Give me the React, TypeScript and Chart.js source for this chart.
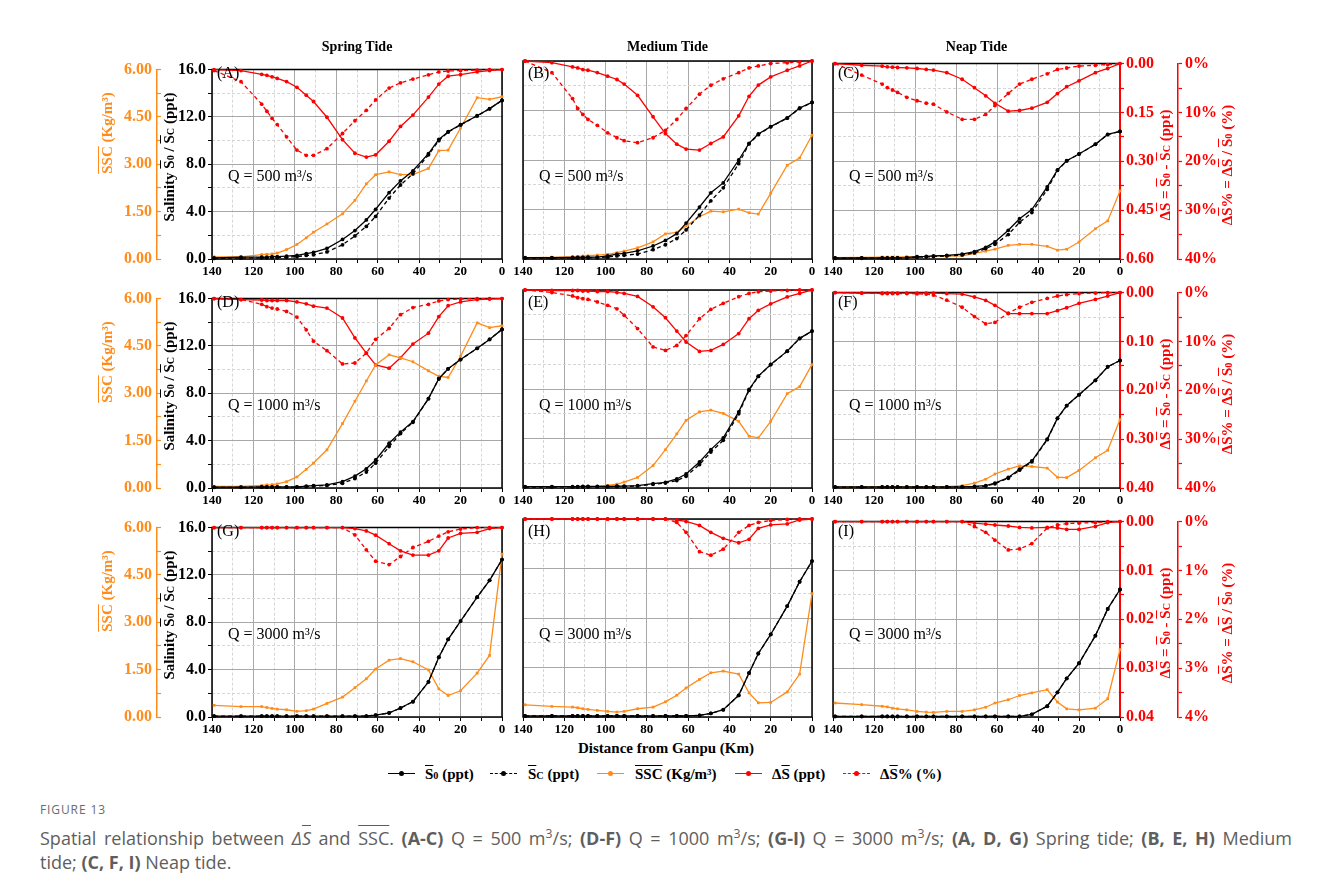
import React, { useEffect, useRef } from "react";
import { Chart, registerables } from "chart.js";

Chart.register(...registerables);

// Sampling stations, distance from Ganpu (km)
const distanceKm = [139, 126, 116, 113.5, 111, 108.5, 104, 99, 94.5, 91, 84.5, 77, 71, 65.5, 61, 54.5, 49, 43, 35.5, 30.5, 26, 20, 12, 6, 0];

// ---- Q = 500 m3/s ----
const s0A = [0.10, 0.15, 0.15, 0.15, 0.20, 0.20, 0.25, 0.30, 0.45, 0.55, 0.90, 1.65, 2.40, 3.30, 4.20, 5.60, 6.60, 7.45, 8.90, 10.10, 10.75, 11.35, 12.10, 12.70, 13.40];
const scA = [0.05, 0.08, 0.10, 0.10, 0.12, 0.12, 0.15, 0.20, 0.30, 0.35, 0.60, 1.20, 1.95, 2.75, 3.60, 5.15, 6.25, 7.20, 8.80, 10.00, 10.72, 11.33, 12.09, 12.69, 13.40];
const sscA = [0.07, 0.07, 0.14, 0.15, 0.16, 0.19, 0.30, 0.46, 0.67, 0.85, 1.11, 1.43, 1.86, 2.38, 2.67, 2.76, 2.67, 2.67, 2.87, 3.43, 3.45, 4.15, 5.11, 5.06, 5.14];
const dsA = [0, 0.003, 0.015, 0.018, 0.023, 0.028, 0.038, 0.056, 0.081, 0.101, 0.151, 0.222, 0.265, 0.277, 0.270, 0.227, 0.180, 0.144, 0.087, 0.046, 0.021, 0.016, 0.007, 0.003, 0];
const dspA = [0.2, 2.55, 7.3, 8.8, 10.3, 11.6, 14.2, 17.0, 18.1, 18.1, 16.7, 13.5, 10.8, 8.6, 6.4, 3.9, 2.8, 2.0, 1.1, 0.5, 0.3, 0.2, 0.1, 0, 0];

const s0B = [0.10, 0.10, 0.12, 0.12, 0.13, 0.14, 0.15, 0.25, 0.40, 0.45, 0.65, 1.05, 1.50, 2.05, 2.90, 4.20, 5.35, 6.15, 8.00, 9.35, 10.10, 10.70, 11.40, 12.20, 12.65];
const scB = [0.08, 0.08, 0.09, 0.09, 0.10, 0.10, 0.11, 0.15, 0.25, 0.30, 0.40, 0.75, 1.15, 1.65, 2.35, 3.55, 4.70, 5.75, 7.70, 9.30, 10.05, 10.68, 11.38, 12.18, 12.65];
const sscB = [0.04, 0.05, 0.07, 0.08, 0.09, 0.10, 0.12, 0.14, 0.19, 0.24, 0.34, 0.52, 0.76, 0.81, 1.00, 1.28, 1.45, 1.43, 1.51, 1.40, 1.36, 1.99, 2.84, 3.06, 3.75];
const dsB = [0, 0.005, 0.018, 0.021, 0.026, 0.028, 0.035, 0.046, 0.056, 0.070, 0.104, 0.169, 0.220, 0.252, 0.267, 0.270, 0.250, 0.230, 0.166, 0.107, 0.073, 0.048, 0.028, 0.015, 0];
const dspB = [0, 2.35, 7.6, 9.6, 10.8, 11.8, 13.0, 14.5, 15.5, 16.1, 16.5, 15.5, 14.0, 11.8, 9.6, 6.7, 4.9, 3.6, 2.35, 1.4, 1.0, 0.5, 0.35, 0.2, 0];

const s0C = [0.08, 0.08, 0.09, 0.09, 0.10, 0.10, 0.12, 0.20, 0.22, 0.25, 0.30, 0.40, 0.60, 0.95, 1.40, 2.35, 3.30, 4.05, 5.90, 7.30, 8.05, 8.60, 9.40, 10.20, 10.45];
const scC = [0.06, 0.06, 0.07, 0.07, 0.08, 0.08, 0.10, 0.15, 0.17, 0.20, 0.25, 0.33, 0.50, 0.85, 1.20, 2.00, 3.00, 3.80, 5.70, 7.25, 8.03, 8.59, 9.39, 10.19, 10.45];
const sscC = [0.04, 0.05, 0.06, 0.06, 0.06, 0.06, 0.07, 0.07, 0.07, 0.08, 0.09, 0.10, 0.17, 0.24, 0.30, 0.42, 0.45, 0.45, 0.39, 0.27, 0.30, 0.52, 0.93, 1.17, 2.09];
const dsC = [0, 0.005, 0.008, 0.010, 0.011, 0.012, 0.013, 0.015, 0.018, 0.020, 0.028, 0.048, 0.074, 0.099, 0.122, 0.146, 0.144, 0.137, 0.119, 0.092, 0.071, 0.053, 0.028, 0.015, 0];
const dspC = [0, 2.35, 4.2, 4.9, 5.4, 5.9, 6.9, 7.6, 8.1, 8.3, 9.9, 11.4, 11.4, 10.4, 8.6, 6.1, 4.2, 3.2, 2.1, 1.2, 0.9, 0.5, 0.35, 0.2, 0];

// ---- Q = 1000 m3/s ----
const s0D = [0.08, 0.08, 0.09, 0.09, 0.09, 0.10, 0.10, 0.10, 0.15, 0.20, 0.27, 0.54, 1.00, 1.62, 2.37, 3.78, 4.72, 5.61, 7.55, 9.23, 10.07, 10.85, 11.80, 12.55, 13.40];
const scD = [0.06, 0.06, 0.07, 0.07, 0.07, 0.08, 0.08, 0.08, 0.12, 0.16, 0.22, 0.40, 0.80, 1.35, 2.10, 3.50, 4.60, 5.55, 7.55, 9.23, 10.07, 10.85, 11.80, 12.55, 13.40];
const sscD = [0.05, 0.05, 0.08, 0.10, 0.11, 0.13, 0.20, 0.35, 0.59, 0.79, 1.21, 2.04, 2.75, 3.39, 3.90, 4.22, 4.12, 4.00, 3.71, 3.54, 3.50, 4.17, 5.23, 5.08, 5.14];
const dsD = [0, 0.002, 0.003, 0.004, 0.004, 0.004, 0.004, 0.007, 0.011, 0.016, 0.020, 0.041, 0.083, 0.115, 0.140, 0.147, 0.125, 0.096, 0.073, 0.038, 0.015, 0.007, 0.002, 0.001, 0];
const dspD = [0, 0.2, 1.2, 1.7, 2.0, 2.2, 2.7, 3.9, 6.6, 9.0, 11.0, 13.8, 13.6, 11.5, 8.6, 6.3, 3.4, 1.9, 1.2, 0.5, 0.2, 0.1, 0, 0, 0];

const s0E = [0.10, 0.10, 0.11, 0.11, 0.12, 0.12, 0.13, 0.13, 0.14, 0.15, 0.19, 0.35, 0.46, 0.73, 1.13, 2.10, 3.10, 4.05, 6.15, 7.96, 9.04, 9.98, 11.06, 12.09, 12.68];
const scE = [0.08, 0.08, 0.09, 0.09, 0.10, 0.10, 0.11, 0.11, 0.12, 0.13, 0.16, 0.30, 0.40, 0.60, 0.95, 1.90, 2.90, 3.85, 6.00, 7.90, 9.02, 9.97, 11.05, 12.08, 12.68];
const sscE = [0.03, 0.03, 0.04, 0.04, 0.04, 0.04, 0.05, 0.08, 0.12, 0.18, 0.32, 0.68, 1.16, 1.64, 2.05, 2.31, 2.36, 2.26, 2.02, 1.57, 1.52, 2.02, 2.86, 3.07, 3.74];
const dsE = [0, 0.001, 0.001, 0.001, 0.002, 0.002, 0.003, 0.003, 0.005, 0.007, 0.013, 0.034, 0.056, 0.083, 0.105, 0.124, 0.122, 0.110, 0.088, 0.058, 0.041, 0.028, 0.014, 0.007, 0];
const dspE = [0, 0.5, 1.2, 1.55, 1.75, 1.9, 2.4, 3.1, 3.8, 5.1, 7.8, 11.5, 12.2, 11.2, 9.2, 5.8, 3.9, 2.7, 1.35, 0.7, 0.35, 0.2, 0.1, 0, 0];

const s0F = [0.08, 0.08, 0.08, 0.08, 0.08, 0.08, 0.08, 0.08, 0.08, 0.08, 0.09, 0.10, 0.13, 0.19, 0.40, 0.86, 1.54, 2.21, 4.00, 5.72, 6.75, 7.64, 8.82, 9.93, 10.44];
const scF = [0.07, 0.07, 0.07, 0.07, 0.07, 0.07, 0.07, 0.07, 0.07, 0.07, 0.08, 0.09, 0.11, 0.16, 0.35, 0.80, 1.46, 2.15, 3.96, 5.70, 6.74, 7.63, 8.81, 9.92, 10.44];
const sscF = [0.03, 0.03, 0.03, 0.03, 0.03, 0.03, 0.03, 0.03, 0.03, 0.03, 0.04, 0.07, 0.15, 0.27, 0.43, 0.58, 0.68, 0.66, 0.61, 0.33, 0.32, 0.54, 0.93, 1.16, 2.10];
const dsF = [0, 0.001, 0.001, 0.001, 0.001, 0.001, 0.001, 0.001, 0.001, 0.001, 0.002, 0.003, 0.009, 0.016, 0.026, 0.043, 0.043, 0.043, 0.043, 0.037, 0.031, 0.022, 0.014, 0.007, 0];
const dspF = [0, 0.1, 0.2, 0.2, 0.2, 0.2, 0.2, 0.25, 0.3, 0.5, 1.55, 3.0, 4.9, 6.4, 6.1, 4.2, 3.0, 2.0, 1.2, 0.7, 0.4, 0.2, 0.1, 0, 0];

// ---- Q = 3000 m3/s ----
const s0G = [0.08, 0.08, 0.08, 0.08, 0.08, 0.08, 0.08, 0.08, 0.08, 0.08, 0.08, 0.08, 0.08, 0.08, 0.16, 0.35, 0.76, 1.30, 2.97, 5.05, 6.56, 8.10, 10.12, 11.55, 13.30];
const scG = [0.08, 0.08, 0.08, 0.08, 0.08, 0.08, 0.08, 0.08, 0.08, 0.08, 0.08, 0.08, 0.08, 0.08, 0.16, 0.34, 0.75, 1.29, 2.96, 5.04, 6.56, 8.10, 10.12, 11.55, 13.30];
const sscG = [0.37, 0.33, 0.33, 0.30, 0.27, 0.25, 0.23, 0.18, 0.20, 0.25, 0.43, 0.63, 0.93, 1.21, 1.52, 1.80, 1.85, 1.75, 1.49, 0.89, 0.68, 0.83, 1.39, 1.95, 5.16];
const dsG = [0, 0, 0, 0, 0, 0, 0, 0, 0, 0, 0, 0, 0.0002, 0.0007, 0.0016, 0.0034, 0.0049, 0.0058, 0.0058, 0.0049, 0.0022, 0.0012, 0.0010, 0.0002, 0];
const dspG = [0, 0, 0, 0, 0, 0, 0, 0, 0, 0, 0, 0, 0.155, 0.47, 0.71, 0.78, 0.61, 0.42, 0.29, 0.18, 0.09, 0.03, 0, 0, 0];

const s0H = [0.08, 0.08, 0.08, 0.08, 0.08, 0.08, 0.08, 0.08, 0.08, 0.08, 0.08, 0.08, 0.08, 0.08, 0.08, 0.13, 0.30, 0.59, 1.75, 3.56, 5.13, 6.67, 8.96, 10.93, 12.60];
const scH = [0.08, 0.08, 0.08, 0.08, 0.08, 0.08, 0.08, 0.08, 0.08, 0.08, 0.08, 0.08, 0.08, 0.08, 0.08, 0.13, 0.29, 0.58, 1.74, 3.55, 5.13, 6.67, 8.96, 10.93, 12.60];
const sscH = [0.37, 0.32, 0.30, 0.28, 0.25, 0.23, 0.20, 0.17, 0.15, 0.17, 0.25, 0.30, 0.46, 0.66, 0.88, 1.14, 1.34, 1.39, 1.30, 0.73, 0.43, 0.44, 0.76, 1.30, 3.74];
const dsH = [0, 0, 0, 0, 0, 0, 0, 0, 0, 0, 0, 0, 0, 0.0002, 0.0005, 0.0013, 0.0027, 0.0039, 0.0048, 0.0041, 0.0019, 0.0012, 0.0010, 0.0002, 0];
const dspH = [0, 0, 0, 0, 0, 0, 0, 0, 0, 0, 0, 0, 0, 0.07, 0.27, 0.66, 0.73, 0.61, 0.27, 0.13, 0.07, 0.03, 0.01, 0, 0];

const s0I = [0.05, 0.05, 0.05, 0.05, 0.05, 0.05, 0.05, 0.05, 0.05, 0.05, 0.05, 0.05, 0.05, 0.05, 0.05, 0.05, 0.05, 0.22, 0.89, 2.02, 3.16, 4.40, 6.66, 8.85, 10.44];
const scI = [0.05, 0.05, 0.05, 0.05, 0.05, 0.05, 0.05, 0.05, 0.05, 0.05, 0.05, 0.05, 0.05, 0.05, 0.05, 0.05, 0.05, 0.22, 0.88, 2.02, 3.16, 4.40, 6.66, 8.85, 10.44];
const sscI = [0.43, 0.38, 0.33, 0.31, 0.27, 0.25, 0.22, 0.17, 0.15, 0.14, 0.17, 0.17, 0.22, 0.30, 0.43, 0.53, 0.66, 0.74, 0.84, 0.46, 0.25, 0.22, 0.27, 0.56, 2.07];
const dsI = [0, 0, 0, 0, 0, 0, 0, 0, 0, 0, 0, 0, 0.0003, 0.0005, 0.0007, 0.0009, 0.0012, 0.0013, 0.0012, 0.0013, 0.0016, 0.0016, 0.0010, 0.0002, 0];
const dspI = [0, 0, 0, 0, 0, 0, 0, 0, 0, 0, 0, 0, 0.10, 0.22, 0.38, 0.58, 0.56, 0.45, 0.13, 0.07, 0.04, 0.03, 0.02, 0, 0];

// Axis ticks and their labels ('' = unlabelled minor tick)
const xTickValues = [0, 10, 20, 30, 40, 50, 60, 70, 80, 90, 100, 110, 120, 130, 140];
const xTickLabels = ["0", "", "20", "", "40", "", "60", "", "80", "", "100", "", "120", "", "140"];
const salTickValues = [0, 2, 4, 6, 8, 10, 12, 14, 16];
const salTickLabels = ["0.0", "", "4.0", "", "8.0", "", "12.0", "", "16.0"];
const sscTickValues = [0, 0.75, 1.5, 2.25, 3, 3.75, 4.5, 5.25, 6];
const sscTickLabels = ["0.00", "", "1.50", "", "3.00", "", "4.50", "", "6.00"];
const dsTickValues = [
  [0, 0.075, 0.15, 0.225, 0.3, 0.375, 0.45, 0.525, 0.6],
  [0, 0.05, 0.1, 0.15, 0.2, 0.25, 0.3, 0.35, 0.4],
  [0, 0.005, 0.01, 0.015, 0.02, 0.025, 0.03, 0.035, 0.04],
];
const dsTickLabels = [
  ["0.00", "", "0.15", "", "0.30", "", "0.45", "", "0.60"],
  ["0.00", "", "0.10", "", "0.20", "", "0.30", "", "0.40"],
  ["0.00", "", "0.01", "", "0.02", "", "0.03", "", "0.04"],
];
const dspTickValues = [
  [0, 5, 10, 15, 20, 25, 30, 35, 40],
  [0, 5, 10, 15, 20, 25, 30, 35, 40],
  [0, 0.5, 1, 1.5, 2, 2.5, 3, 3.5, 4],
];
const dspTickLabels = [
  ["0%", "", "10%", "", "20%", "", "30%", "", "40%"],
  ["0%", "", "10%", "", "20%", "", "30%", "", "40%"],
  ["0%", "", "1%", "", "2%", "", "3%", "", "4%"],
];

const tideNames = ["Spring Tide", "Medium Tide", "Neap Tide"];
const flowRates = ["500", "1000", "3000"];

type PanelSpec = {
  key: string; row: number; col: number;
  s0: number[]; sc: number[]; ssc: number[]; ds: number[]; dsp: number[];
};

const panels: PanelSpec[] = [
  { key: "A", row: 0, col: 0, s0: s0A, sc: scA, ssc: sscA, ds: dsA, dsp: dspA },
  { key: "B", row: 0, col: 1, s0: s0B, sc: scB, ssc: sscB, ds: dsB, dsp: dspB },
  { key: "C", row: 0, col: 2, s0: s0C, sc: scC, ssc: sscC, ds: dsC, dsp: dspC },
  { key: "D", row: 1, col: 0, s0: s0D, sc: scD, ssc: sscD, ds: dsD, dsp: dspD },
  { key: "E", row: 1, col: 1, s0: s0E, sc: scE, ssc: sscE, ds: dsE, dsp: dspE },
  { key: "F", row: 1, col: 2, s0: s0F, sc: scF, ssc: sscF, ds: dsF, dsp: dspF },
  { key: "G", row: 2, col: 0, s0: s0G, sc: scG, ssc: sscG, ds: dsG, dsp: dspG },
  { key: "H", row: 2, col: 1, s0: s0H, sc: scH, ssc: sscH, ds: dsH, dsp: dspH },
  { key: "I", row: 2, col: 2, s0: s0I, sc: scI, ssc: sscI, ds: dsI, dsp: dspI },
];

const ORANGE = "#FF8C1A";
const RED = "#FF0000";
const GRID_MAJOR = "#a8a8a8";
const GRID_MINOR = "#d6d6d6";
const SERIF = "'Liberation Serif', 'Times New Roman', serif";
const SANS = "'Open Sans', 'Noto Sans', sans-serif";

// Plot-area geometry (page pixels)
const PLOT_LEFT = [212, 523, 833];
const PLOT_RIGHT = [502, 812, 1120];
const PLOT_TOP = [61, 290, 519];
const PLOT_BOTTOM = [259, 488, 717];
const CANVAS_LEFT = [112, 509, 819];
const CANVAS_RIGHT = [516, 826, 1245];
const PAD_TOP = 10;
const X_AXIS_H = 22;

function labelFor(values: number[], labels: string[], v: number): string {
  const i = values.findIndex((t) => Math.abs(t - v) < 1e-9);
  return i >= 0 ? labels[i] : "";
}

function fixedTicks(values: number[]) {
  return (scale: any) => {
    scale.ticks = values.map((value) => ({ value }));
  };
}

function gridColor(values: number[], labels: string[]) {
  return (ctx: any) =>
    ctx.tick && labelFor(values, labels, ctx.tick.value) === "" ? GRID_MINOR : GRID_MAJOR;
}

function gridDash(values: number[], labels: string[]) {
  return (ctx: any) =>
    ctx.tick && labelFor(values, labels, ctx.tick.value) === "" ? [3, 2] : [];
}

// Black frame round the plot area (right side left to the red axis on the last column)
const panelFrame = {
  id: "panelFrame",
  beforeDatasetsDraw(chart: any, _args: any, opts: any) {
    const { ctx, chartArea } = chart;
    const { left, top, right, bottom } = chartArea;
    ctx.save();
    ctx.strokeStyle = "#000";
    ctx.lineWidth = 1.5;
    ctx.beginPath();
    ctx.moveTo(right, top);
    ctx.lineTo(left, top);
    ctx.lineTo(left, bottom);
    ctx.lineTo(right, bottom);
    if (!opts.openRight) ctx.lineTo(right, top);
    ctx.stroke();
    ctx.restore();
  },
};

const tickFont = (size: number) => ({ family: SERIF, size, weight: "bold" as const });

function series(label: string, values: number[], color: string, axis: string, dashed: boolean, style: string) {
  return {
    label,
    data: distanceKm.map((x, i) => ({ x, y: values[i] })),
    yAxisID: axis,
    borderColor: color,
    backgroundColor: color,
    borderWidth: 1.3,
    borderDash: dashed ? [4, 3] : [],
    pointRadius: 1.9,
    pointBorderWidth: 0,
    pointStyle: style,
    tension: 0,
    clip: false,
  };
}

function Panel({ p }: { p: PanelSpec }) {
  const ref = useRef<HTMLCanvasElement>(null);
  const { row, col } = p;
  const left = CANVAS_LEFT[col];
  const width = CANVAS_RIGHT[col] - left;
  const top = PLOT_TOP[row] - PAD_TOP;
  const height = PLOT_BOTTOM[row] - PLOT_TOP[row] + PAD_TOP + X_AXIS_H;

  useEffect(() => {
    const dsVals = dsTickValues[row];
    const dsLabs = dsTickLabels[row];
    const dspVals = dspTickValues[row];
    const dspLabs = dspTickLabels[row];
    const chart = new Chart(ref.current as HTMLCanvasElement, {
      type: "line",
      data: {
        datasets: [
          series("S0 (ppt)", p.s0, "#000", "ySal", false, "circle"),
          series("Sc (ppt)", p.sc, "#000", "ySal", true, "circle"),
          series("SSC (Kg/m³)", p.ssc, ORANGE, "ySsc", false, "rect"),
          series("ΔS (ppt)", p.ds, RED, "yDs", false, "circle"),
          series("ΔS% (%)", p.dsp, RED, "yDsp", true, "circle"),
        ] as any,
      },
      plugins: [panelFrame as any],
      options: {
        animation: false,
        responsive: false,
        devicePixelRatio: 1,
        events: [],
        layout: {
          padding: { top: PAD_TOP, bottom: 0, left: col === 0 ? 0 : 14, right: col === 2 ? 0 : 14 },
        },
        plugins: {
          legend: { display: false },
          tooltip: { enabled: false },
          panelFrame: { openRight: col === 2 },
        } as any,
        scales: {
          x: {
            type: "linear",
            min: 0,
            max: 140,
            reverse: true,
            position: "bottom",
            afterBuildTicks: fixedTicks(xTickValues),
            afterFit: (s: any) => { s.height = X_AXIS_H; },
            ticks: {
              autoSkip: false, maxRotation: 0, minRotation: 0, padding: 1,
              color: "#000", font: tickFont(13),
              callback: (v: any) => labelFor(xTickValues, xTickLabels, Number(v)),
            },
            grid: {
              color: gridColor(xTickValues, xTickLabels), lineWidth: 1,
              drawTicks: true, tickLength: 4, tickColor: "#000", tickWidth: 1,
            },
            border: { display: false, dash: gridDash(xTickValues, xTickLabels) },
          },
          ySal: {
            type: "linear", min: 0, max: 16, position: "left", weight: 0,
            afterBuildTicks: fixedTicks(salTickValues),
            afterFit: (s: any) => { s.width = col === 0 ? 55 : 0; },
            ticks: {
              display: col === 0, padding: 2, color: "#000", font: tickFont(16),
              callback: (v: any) => labelFor(salTickValues, salTickLabels, Number(v)),
            },
            grid: {
              color: gridColor(salTickValues, salTickLabels), lineWidth: 1,
              drawTicks: col === 0, tickLength: 4, tickColor: "#000", tickWidth: 1,
            },
            border: { display: false, dash: gridDash(salTickValues, salTickLabels) },
          },
          ySsc: {
            type: "linear", min: 0, max: 6, position: "left", weight: 1, display: col === 0,
            afterBuildTicks: fixedTicks(sscTickValues),
            afterFit: (s: any) => { s.width = col === 0 ? 45 : 0; },
            ticks: {
              padding: 9, color: ORANGE, font: tickFont(16),
              callback: (v: any) => labelFor(sscTickValues, sscTickLabels, Number(v)),
            },
            grid: { drawOnChartArea: false, drawTicks: true, tickLength: -4, tickColor: ORANGE, tickWidth: 1.2 },
            border: { display: true, color: ORANGE, width: 1.5 },
          },
          yDs: {
            type: "linear", min: 0, max: dsVals[dsVals.length - 1], reverse: true,
            position: "right", weight: 0, display: col === 2,
            afterBuildTicks: fixedTicks(dsVals),
            afterFit: (s: any) => { s.width = col === 2 ? 58 : 0; },
            ticks: {
              padding: 2, color: RED, font: tickFont(16),
              callback: (v: any) => labelFor(dsVals, dsLabs, Number(v)),
            },
            grid: { drawOnChartArea: false, drawTicks: true, tickLength: 4, tickColor: RED, tickWidth: 1.2 },
            border: { display: true, color: RED, width: 2 },
          },
          yDsp: {
            type: "linear", min: 0, max: dspVals[dspVals.length - 1], reverse: true,
            position: "right", weight: 1, display: col === 2,
            afterBuildTicks: fixedTicks(dspVals),
            afterFit: (s: any) => { s.width = col === 2 ? 67 : 0; },
            ticks: {
              padding: 3, color: RED, font: tickFont(16),
              callback: (v: any) => labelFor(dspVals, dspLabs, Number(v)),
            },
            grid: { drawOnChartArea: false, drawTicks: true, tickLength: 4, tickColor: RED, tickWidth: 1.2 },
            border: { display: true, color: RED, width: 1.5 },
          },
        } as any,
      },
    });
    return () => chart.destroy();
  }, []);

  return (
    <canvas
      ref={ref}
      width={width}
      height={height}
      style={{ position: "absolute", left, top, width, height, display: "block" }}
    />
  );
}

const O = ({ children }: { children: React.ReactNode }) => (
  <span style={{ textDecoration: "overline" }}>{children}</span>
);
const Sub = ({ children }: { children: React.ReactNode }) => (
  <span style={{ fontSize: "0.68em" }}>{children}</span>
);

function VText({ x, y, color, children }: { x: number; y: number; color: string; children: React.ReactNode }) {
  return (
    <div
      style={{
        position: "absolute", left: x, top: y, transform: "translate(-50%, -50%) rotate(-90deg)",
        whiteSpace: "nowrap", fontFamily: SERIF, fontWeight: "bold", fontSize: 15, color, lineHeight: "18px",
      }}
    >
      {children}
    </div>
  );
}

const legendItems = [
  { color: "#000", dashed: false, sx: 388, tx: 425, text: <><O>S</O><Sub>0</Sub> (ppt)</> },
  { color: "#000", dashed: true, sx: 490, tx: 528, text: <><O>S</O><Sub>C</Sub> (ppt)</> },
  { color: ORANGE, dashed: false, sx: 597, tx: 635, text: <><O>SSC</O> (Kg/m³)</> },
  { color: RED, dashed: false, sx: 735, tx: 772, text: <>Δ<O>S</O> (ppt)</> },
  { color: RED, dashed: true, sx: 843, tx: 880, text: <>Δ<O>S</O>% (%)</> },
];

export default function App() {
  const sup = (t: string) => (
    <span style={{ fontSize: "0.68em", verticalAlign: "super", lineHeight: 0 }}>{t}</span>
  );
  const captionStyle: React.CSSProperties = {
    position: "absolute", left: 40, width: 1252, fontFamily: SANS, fontSize: 18,
    lineHeight: "24px", color: "#5e5e5e", whiteSpace: "nowrap",
  };
  return (
    <div
      style={{
        position: "absolute", left: 0, top: 0, width: 1332, height: 895,
        background: "#fff", overflow: "hidden", fontFamily: SERIF,
      }}
    >
      {panels.map((p) => (
        <Panel key={p.key} p={p} />
      ))}

      {tideNames.map((t, c) => (
        <div
          key={t}
          style={{
            position: "absolute", left: (PLOT_LEFT[c] + PLOT_RIGHT[c]) / 2 - 100, width: 200, top: 38,
            textAlign: "center", fontWeight: "bold", fontSize: 14, lineHeight: "18px", color: "#000",
          }}
        >
          {t}
        </div>
      ))}

      {panels.map((p) => (
        <div
          key={"lab" + p.key}
          style={{
            position: "absolute", left: PLOT_LEFT[p.col] + 5, top: PLOT_TOP[p.row] + 2,
            fontSize: 16, lineHeight: "20px", color: "#000",
          }}
        >
          ({p.key})
        </div>
      ))}

      {panels.map((p) => (
        <div
          key={"q" + p.key}
          style={{
            position: "absolute", left: PLOT_LEFT[p.col] + 16, top: PLOT_TOP[p.row] + 105,
            fontSize: 16, lineHeight: "20px", color: "#000", whiteSpace: "nowrap",
          }}
        >
          Q = {flowRates[p.row]} m³/s
        </div>
      ))}

      {[0, 1, 2].map((r) => (
        <React.Fragment key={"axt" + r}>
          <VText x={107} y={PLOT_TOP[r] + 72} color={ORANGE}>
            <O>SSC</O> (Kg/m³)
          </VText>
          <VText x={170} y={(PLOT_TOP[r] + PLOT_BOTTOM[r]) / 2 - 3} color="#000">
            Salinity <O>S</O><Sub>0</Sub> / <O>S</O><Sub>C</Sub> (ppt)
          </VText>
          <VText x={1166} y={(PLOT_TOP[r] + PLOT_BOTTOM[r]) / 2 + 5} color={RED}>
            Δ<O>S</O> = <O>S</O><Sub>0</Sub> - <O>S</O><Sub>C</Sub> (ppt)
          </VText>
          <VText x={1228} y={(PLOT_TOP[r] + PLOT_BOTTOM[r]) / 2 + 5} color={RED}>
            Δ<O>S</O>% = Δ<O>S</O> / <O>S</O><Sub>0</Sub> (%)
          </VText>
        </React.Fragment>
      ))}

      <div
        style={{
          position: "absolute", left: 466, width: 400, top: 739, textAlign: "center",
          fontWeight: "bold", fontSize: 15, lineHeight: "18px", color: "#000",
        }}
      >
        Distance from Ganpu (Km)
      </div>

      {legendItems.map((it, i) => (
        <React.Fragment key={"lg" + i}>
          <div
            style={{
              position: "absolute", left: it.sx, top: 773, width: 27, height: 0,
              borderTop: `1.5px ${it.dashed ? "dashed" : "solid"} ${it.color}`,
            }}
          />
          <div
            style={{
              position: "absolute", left: it.sx + 11, top: 771, width: 5, height: 5,
              borderRadius: "50%", background: it.color,
            }}
          />
          <div
            style={{
              position: "absolute", left: it.tx, top: 764, fontWeight: "bold", fontSize: 15,
              lineHeight: "20px", color: "#000", whiteSpace: "nowrap",
            }}
          >
            {it.text}
          </div>
        </React.Fragment>
      ))}

      <div
        style={{
          position: "absolute", left: 40, top: 802, fontFamily: SANS, fontSize: 12,
          letterSpacing: "0.9px", color: "#6b6b6b", lineHeight: "16px",
        }}
      >
        FIGURE 13
      </div>
      <div style={{ ...captionStyle, top: 826, textAlign: "justify", textAlignLast: "justify" }}>
        Spatial relationship between <i>Δ<O>S</O></i> and <O>SSC</O>. <b>(A-C)</b> Q = 500 m{sup("3")}/s;{" "}
        <b>(D-F)</b> Q = 1000 m{sup("3")}/s; <b>(G-I)</b> Q = 3000 m{sup("3")}/s; <b>(A, D, G)</b> Spring tide;{" "}
        <b>(B, E, H)</b> Medium
      </div>
      <div style={{ ...captionStyle, top: 850 }}>
        tide; <b>(C, F, I)</b> Neap tide.
      </div>
    </div>
  );
}
